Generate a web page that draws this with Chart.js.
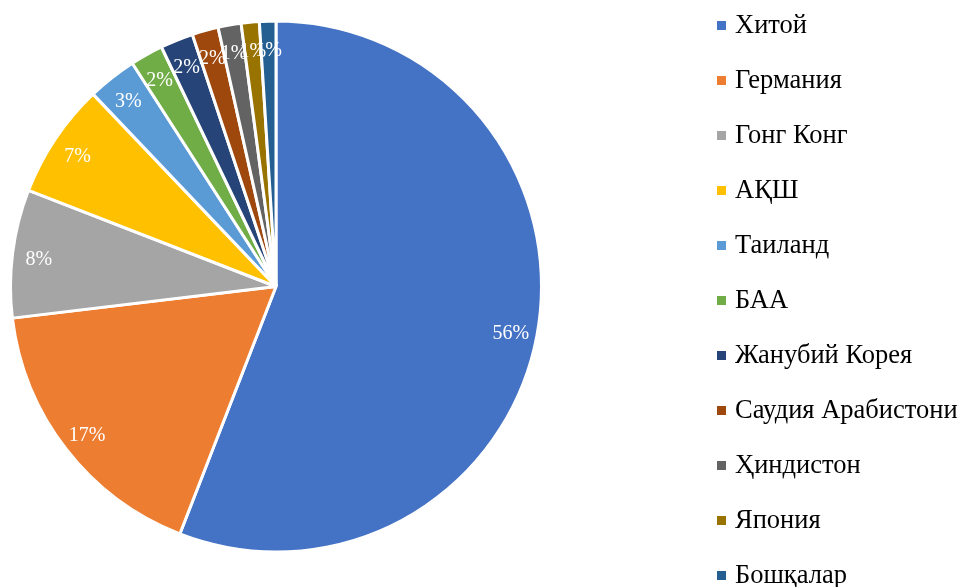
<!DOCTYPE html>
<html>
<head>
<meta charset="utf-8">
<script src="https://cdn.jsdelivr.net/npm/chart.js@4"></script>
<style>
  html, body { margin: 0; padding: 0; background: #ffffff; }
  #wrap { width: 962px; height: 587px; position: relative; }
</style>
</head>
<body>
<div id="wrap"><canvas id="shareChart"></canvas></div>
<script>
// Countries and their share (%)
const countries = ['Хитой', 'Германия', 'Гонг Конг', 'АҚШ', 'Таиланд', 'БАА',
    'Жанубий Корея', 'Саудия Арабистони', 'Ҳиндистон', 'Япония', 'Бошқалар'];
const shares = [55.9, 17.2, 7.8, 7.0, 3.0, 2.0, 2.0, 1.6, 1.4, 1.1, 1.0];
const colors = ['#4472C4', '#ED7D31', '#A5A5A5', '#FFC000', '#5B9BD5', '#70AD47',
    '#264478', '#9E480E', '#636363', '#997300', '#255E91'];

// percent labels inside slices
const sliceLabels = {
    id: 'sliceLabels',
    afterDatasetsDraw(chart) {
        const ctx = chart.ctx;
        const meta = chart.getDatasetMeta(0);
        const total = shares.reduce((a, b) => a + b, 0);
        ctx.save();
        ctx.fillStyle = '#ffffff';
        ctx.font = '20px "Liberation Serif", "Times New Roman", serif';
        ctx.textAlign = 'center';
        ctx.textBaseline = 'middle';
        meta.data.forEach((arc, i) => {
            const mid = (arc.startAngle + arc.endAngle) / 2;
            const r = arc.outerRadius * 0.9;
            const x = arc.x + Math.cos(mid) * r;
            const y = arc.y + Math.sin(mid) * r;
            ctx.fillText(Math.round(shares[i] * 100 / total) + '%', x, y + 3);
        });
        ctx.restore();
    }
};

// legend on the right, drawn by hand to keep the wide spacing
const sideLegend = {
    id: 'sideLegend',
    afterDraw(chart) {
        const ctx = chart.ctx;
        ctx.save();
        ctx.font = '26.5px "Liberation Serif", "Times New Roman", serif';
        ctx.textBaseline = 'middle';
        ctx.textAlign = 'left';
        chart.data.labels.forEach((lab, i) => {
            const y = 25 + i * 55;
            ctx.fillStyle = colors[i];
            ctx.fillRect(717, y - 4, 9, 9);
            ctx.fillStyle = '#000000';
            ctx.fillText(lab, 735, y + 1);
        });
        ctx.restore();
    }
};

new Chart(document.getElementById('shareChart'), {
    type: 'pie',
    data: {
        labels: countries,
        datasets: [{
            data: shares,
            backgroundColor: colors,
            borderColor: '#ffffff',
            borderWidth: 3
        }]
    },
    options: {
        responsive: true,
        maintainAspectRatio: false,
        animation: false,
        layout: {
            padding: { left: 9, top: 19, right: 419, bottom: 33 }
        },
        plugins: {
            legend: { display: false },
            tooltip: { enabled: false }
        }
    },
    plugins: [sliceLabels, sideLegend]
});
</script>
</body>
</html>
